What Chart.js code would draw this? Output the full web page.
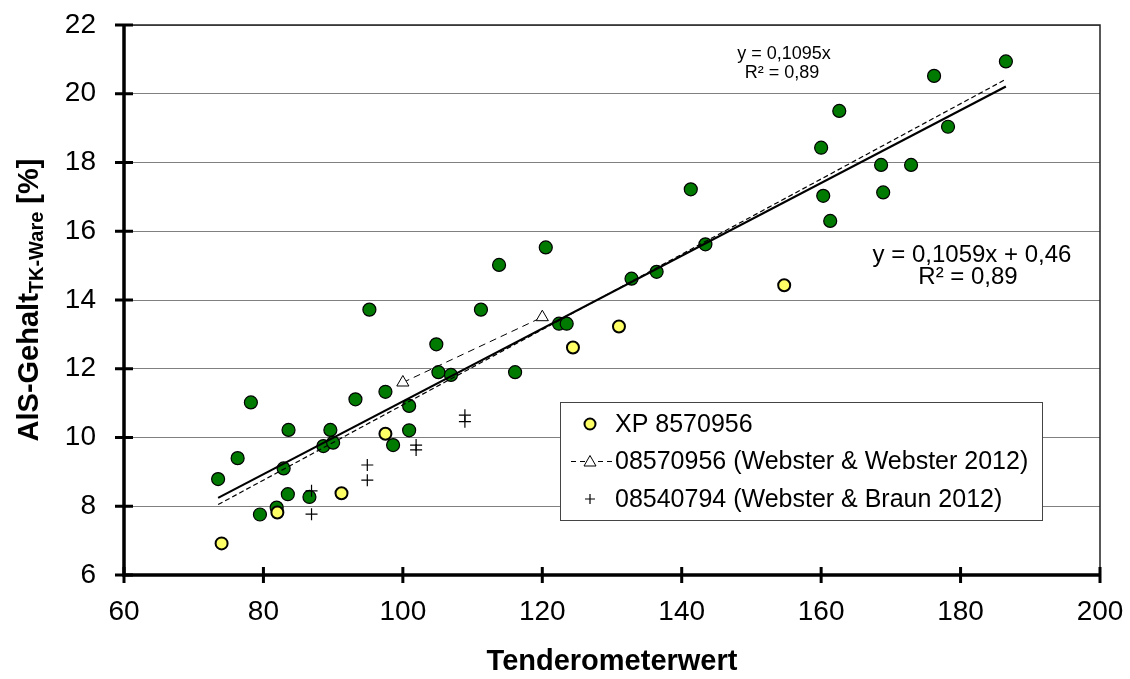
<!DOCTYPE html>
<html>
<head>
<meta charset="utf-8">
<script src="https://cdn.jsdelivr.net/npm/chart.js@4"></script>
<style>
  body { margin: 0; background: #fff; }
  canvas { display: block; }
</style>
</head>
<body>
<canvas id="chart" width="1130" height="679"></canvas>
<script>
// Tenderometerwert vs. AIS-Gehalt
const xTicks = [60, 80, 100, 120, 140, 160, 180, 200];
const yTicks = [6, 8, 10, 12, 14, 16, 18, 20, 22];

// own samples (green)
const greenX = [73.5, 76.3, 78.2, 79.5, 81.9, 82.9, 83.5, 83.6, 86.6, 88.6, 89.6, 90.0, 93.2, 95.2, 97.5, 98.6, 100.9, 100.9, 104.8, 105.1, 106.9, 111.2, 113.8, 116.1, 120.5, 122.4, 123.5, 132.8, 136.4, 141.3, 143.4, 160.0, 160.3, 161.3, 162.6, 168.6, 168.9, 172.9, 176.2, 178.2, 186.5];
const greenY = [8.79, 9.40, 11.02, 7.76, 7.96, 9.10, 8.35, 10.22, 8.27, 9.75, 10.22, 9.85, 11.11, 13.72, 11.33, 9.78, 10.92, 10.21, 12.71, 11.90, 11.82, 13.72, 15.02, 11.90, 15.53, 13.31, 13.31, 14.62, 14.82, 17.22, 15.62, 18.43, 17.03, 16.30, 19.50, 17.93, 17.13, 17.93, 20.52, 19.04, 20.94];

// XP 8570956 (yellow)
const xpX = [74.0, 82.0, 91.2, 97.5, 124.4, 131.0, 154.7];
const xpY = [6.92, 7.82, 8.38, 10.11, 12.62, 13.23, 14.43];

// 08570956 (Webster & Webster 2012)
const wwX = [100, 120];
const wwY = [11.6, 13.5];

// 08540794 (Webster & Braun 2012)
const wbX = [86.9, 86.9, 94.9, 94.9, 101.9, 101.9, 108.9, 108.9];
const wbY = [8.45, 7.77, 9.20, 8.76, 9.78, 9.64, 10.65, 10.46];

// trend lines: [slope, intercept]
const trendLinear = [0.1059, 0.46];
const trendOrigin = [0.1095, 0];

const FONT = 'Arial, "Liberation Sans", sans-serif';

const pts = (xs, ys) => xs.map((x, i) => ({ x: x, y: ys[i] }));
const xMin = Math.min(...greenX), xMax = Math.max(...greenX);
const trendPts = (c) => [xMin, xMax].map(x => ({ x: x, y: c[0] * x + c[1] }));

const extras = {
  id: 'extras',
  afterDraw(chart) {
    const ctx = chart.ctx;
    const a = chart.chartArea;
    const xs = chart.scales.x, ys = chart.scales.y;
    ctx.save();

    // frame top/right
    ctx.strokeStyle = '#222';
    ctx.lineWidth = 1.5;
    ctx.beginPath();
    ctx.moveTo(a.left, a.top);
    ctx.lineTo(a.right, a.top);
    ctx.lineTo(a.right, a.bottom);
    ctx.stroke();

    // thick axes with crossing ticks
    ctx.strokeStyle = '#000';
    ctx.lineWidth = 3.5;
    ctx.beginPath();
    ctx.moveTo(a.left, a.top);
    ctx.lineTo(a.left, a.bottom);
    ctx.lineTo(a.right, a.bottom);
    ctx.stroke();
    ctx.lineWidth = 3;
    ctx.beginPath();
    yTicks.forEach(v => {
      const y = ys.getPixelForValue(v);
      ctx.moveTo(a.left - 9, y);
      ctx.lineTo(a.left + 9, y);
    });
    xTicks.forEach(v => {
      const x = xs.getPixelForValue(v);
      ctx.moveTo(x, a.bottom - 8);
      ctx.lineTo(x, a.bottom + 8);
    });
    ctx.stroke();

    // equations
    ctx.fillStyle = '#000';
    ctx.textAlign = 'center';
    ctx.textBaseline = 'alphabetic';
    ctx.font = '18px ' + FONT;
    ctx.fillText('y = 0,1095x', 784, 59);
    ctx.fillText('R\u00b2 = 0,89', 782, 78);
    ctx.font = '24px ' + FONT;
    ctx.fillText('y = 0,1059x + 0,46', 972, 262);
    ctx.fillText('R\u00b2 = 0,89', 968, 284);

    // axis titles
    ctx.font = 'bold 29px ' + FONT;
    ctx.textAlign = 'center';
    ctx.fillText('Tenderometerwert', (a.left + a.right) / 2, 670);

    ctx.save();
    ctx.translate(38, (a.top + a.bottom) / 2);
    ctx.rotate(-Math.PI / 2);
    const p1 = 'AlS-Gehalt', p2 = 'TK-Ware', p3 = ' [%]';
    ctx.font = 'bold 29px ' + FONT;
    const w1 = ctx.measureText(p1).width, w3 = ctx.measureText(p3).width;
    ctx.font = 'bold 20px ' + FONT;
    const w2 = ctx.measureText(p2).width;
    let x0 = -(w1 + w2 + w3) / 2;
    ctx.textAlign = 'left';
    ctx.font = 'bold 29px ' + FONT;
    ctx.fillText(p1, x0, 0);
    ctx.font = 'bold 20px ' + FONT;
    ctx.fillText(p2, x0 + w1, 5);
    ctx.font = 'bold 29px ' + FONT;
    ctx.fillText(p3, x0 + w1 + w2, 0);
    ctx.restore();

    // legend box
    const lx = 560, ly = 402, lw = 482, lh = 118;
    ctx.fillStyle = '#fff';
    ctx.fillRect(lx, ly, lw, lh);
    ctx.strokeStyle = '#444';
    ctx.lineWidth = 1;
    ctx.strokeRect(lx + 0.5, ly + 0.5, lw, lh);
    const items = chart.data.datasets.filter(d => d.inLegend);
    ctx.font = '25px ' + FONT;
    ctx.textAlign = 'left';
    ctx.textBaseline = 'middle';
    items.forEach((d, i) => {
      const cy = ly + 22 + i * 37.5;
      const mx = 590;
      if (d.showLine) {
        ctx.strokeStyle = '#000';
        ctx.lineWidth = 1;
        ctx.setLineDash([5, 4]);
        ctx.beginPath();
        ctx.moveTo(571, cy); ctx.lineTo(612, cy);
        ctx.stroke();
        ctx.setLineDash([]);
      }
      ctx.fillStyle = d.pointBackgroundColor;
      ctx.strokeStyle = d.pointBorderColor;
      ctx.lineWidth = d.pointBorderWidth;
      ctx.beginPath();
      if (d.pointStyle === 'circle') {
        ctx.arc(mx, cy, 5.5, 0, Math.PI * 2);
        ctx.fill(); ctx.stroke();
      } else if (d.pointStyle === 'triangle') {
        ctx.moveTo(mx, cy - 6); ctx.lineTo(mx + 6, cy + 4.5); ctx.lineTo(mx - 6, cy + 4.5); ctx.closePath();
        ctx.fill(); ctx.stroke();
      } else {
        ctx.moveTo(mx - 5, cy); ctx.lineTo(mx + 5, cy);
        ctx.moveTo(mx, cy - 5); ctx.lineTo(mx, cy + 5);
        ctx.stroke();
      }
      ctx.fillStyle = '#000';
      ctx.fillText(d.label, 615, cy + 1);
    });
    ctx.restore();
  }
};

new Chart(document.getElementById('chart'), {
  type: 'scatter',
  data: {
    datasets: [
      {
        label: 'Daten',
        data: pts(greenX, greenY),
        pointStyle: 'circle',
        pointRadius: 6.5,
        pointBackgroundColor: '#007a00',
        pointBorderColor: '#000',
        pointBorderWidth: 1.2,
        order: 5
      },
      {
        label: 'XP 8570956',
        inLegend: true,
        data: pts(xpX, xpY),
        pointStyle: 'circle',
        pointRadius: 6,
        pointBackgroundColor: '#ffff66',
        pointBorderColor: '#000',
        pointBorderWidth: 2,
        order: 4
      },
      {
        label: '08570956 (Webster & Webster 2012)',
        inLegend: true,
        data: pts(wwX, wwY),
        showLine: true,
        borderColor: '#000',
        borderWidth: 1,
        borderDash: [7, 5],
        pointStyle: 'triangle',
        pointRadius: 7,
        pointBackgroundColor: '#fff',
        pointBorderColor: '#000',
        pointBorderWidth: 1,
        order: 3
      },
      {
        label: '08540794 (Webster & Braun 2012)',
        inLegend: true,
        data: pts(wbX, wbY),
        pointStyle: 'cross',
        pointRadius: 6,
        pointBackgroundColor: '#000',
        pointBorderColor: '#000',
        pointBorderWidth: 1.2,
        order: 2
      },
      {
        label: 'Trend',
        data: trendPts(trendLinear),
        showLine: true,
        borderColor: '#000',
        borderWidth: 2.2,
        pointRadius: 0,
        order: 1
      },
      {
        label: 'Trend durch Null',
        data: trendPts(trendOrigin),
        showLine: true,
        borderColor: '#000',
        borderWidth: 1.2,
        borderDash: [5, 3],
        pointRadius: 0,
        order: 1
      }
    ]
  },
  options: {
    responsive: false,
    devicePixelRatio: 1,
    animation: false,
    layout: { padding: { top: 25, right: 30, left: 0, bottom: 0 } },
    plugins: { legend: { display: false }, tooltip: { enabled: false } },
    scales: {
      x: {
        type: 'linear',
        min: 60, max: 200,
        afterFit: s => { s.height = 104; s.paddingLeft = 0; s.paddingRight = 0; },
        afterBuildTicks: s => { s.ticks = xTicks.map(v => ({ value: v })); },
        grid: { display: false, drawTicks: false },
        border: { display: false },
        ticks: { font: { family: FONT, size: 28 }, color: '#000', padding: 20, maxRotation: 0 }
      },
      y: {
        type: 'linear',
        min: 6, max: 22,
        afterFit: s => { s.width = 124; s.paddingTop = 0; s.paddingBottom = 0; },
        afterBuildTicks: s => { s.ticks = yTicks.map(v => ({ value: v })); },
        grid: { color: '#808080', lineWidth: 1, drawTicks: false },
        border: { display: false },
        ticks: { font: { family: FONT, size: 28 }, color: '#000', padding: 28 }
      }
    }
  },
  plugins: [extras]
});
</script>
</body>
</html>
